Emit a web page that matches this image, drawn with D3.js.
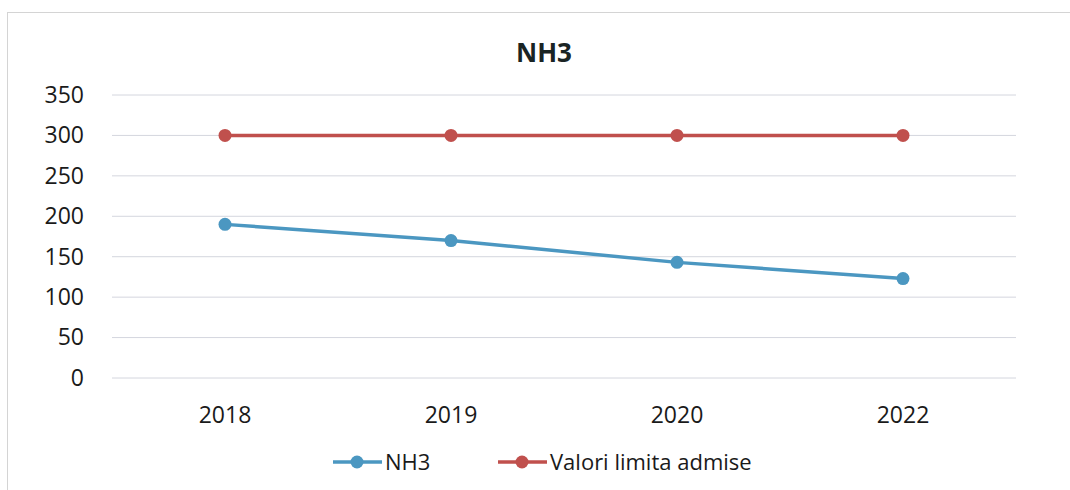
<!DOCTYPE html>
<html>
<head>
<meta charset="UTF-8">
<style>
  body { margin: 0; background: #fff; }
  svg { font-family: "Open Sans", "Noto Sans", sans-serif; }
</style>
</head>
<body>
<svg width="1070" height="490"></svg>
<script src="https://cdn.jsdelivr.net/npm/d3@7/dist/d3.min.js"></script>
<script>

var years = ["2018", "2019", "2020", "2022"];
var nh3 = [190, 170, 143, 123];
var limita = [300, 300, 300, 300];
var yTicks = [0, 50, 100, 150, 200, 250, 300, 350];

var series = [
  {name: "NH3", values: nh3, color: "#4b97c1"},
  {name: "Valori limita admise", values: limita, color: "#c0504d"}
];

var font = "'Open Sans', 'Noto Sans', sans-serif";

var svg = d3.select("svg"),
  margin = {top: 95, right: 54, bottom: 112, left: 112},
  width = +svg.attr("width") - margin.left - margin.right,
  height = +svg.attr("height") - margin.top - margin.bottom;

// chart frame
svg.append("rect")
  .attr("x", 7.5).attr("y", 12.5)
  .attr("width", 1080).attr("height", 490)
  .attr("fill", "none")
  .attr("stroke", "#d4d4d4");

svg.append("text")
  .attr("x", 544).attr("y", 62)
  .attr("text-anchor", "middle")
  .attr("font-size", 26).attr("font-weight", "bold")
  .attr("fill", "#1a2424")
  .text("NH3");

var g = svg.append("g").attr("transform", "translate(" + margin.left + "," + margin.top + ")");

var x = d3.scaleBand().domain(years).range([0, width]);
var y = d3.scaleLinear().domain([0, 350]).range([height, 0]);

g.append("g")
  .selectAll("line")
  .data(yTicks)
  .enter().append("line")
    .attr("x1", 0).attr("x2", width)
    .attr("y1", function(d) { return y(d); })
    .attr("y2", function(d) { return y(d); })
    .attr("stroke", "#d4d6de").attr("stroke-width", 1);

var yAxis = g.append("g")
  .call(d3.axisLeft(y).tickValues(yTicks).tickSize(0).tickPadding(28))
  .attr("font-family", font);
yAxis.select(".domain").remove();
yAxis.selectAll("text").attr("font-size", 23).attr("fill", "#1a1a1a");

var xAxis = g.append("g")
  .attr("transform", "translate(0," + height + ")")
  .call(d3.axisBottom(x).tickSize(0).tickPadding(0))
  .attr("font-family", font);
xAxis.select(".domain").remove();
xAxis.selectAll("text").attr("dy", null).attr("y", 45)
  .attr("font-size", 23).attr("fill", "#1a1a1a");

var line = d3.line()
  .x(function(d, i) { return x(years[i]) + x.bandwidth() / 2; })
  .y(function(d) { return y(d); });

series.forEach(function(s) {
  g.append("path")
    .datum(s.values)
    .attr("fill", "none")
    .attr("stroke", s.color)
    .attr("stroke-width", 3.5)
    .attr("d", line);
  g.selectAll(null)
    .data(s.values)
    .enter().append("circle")
      .attr("cx", function(d, i) { return x(years[i]) + x.bandwidth() / 2; })
      .attr("cy", function(d) { return y(d); })
      .attr("r", 6.5)
      .attr("fill", s.color);
});

// legend
var legendX = [333, 498];
var legend = svg.append("g").attr("transform", "translate(0,462)");
series.forEach(function(s, i) {
  var lg = legend.append("g").attr("transform", "translate(" + legendX[i] + ",0)");
  lg.append("line").attr("x1", 0).attr("x2", 49).attr("stroke", s.color).attr("stroke-width", 3.5);
  lg.append("circle").attr("cx", 24).attr("r", 6.5).attr("fill", s.color);
  lg.append("text").attr("x", 52).attr("dy", "0.35em")
    .attr("font-size", 22).attr("fill", "#1a1a1a")
    .text(s.name);
});

</script>
</body>
</html>
